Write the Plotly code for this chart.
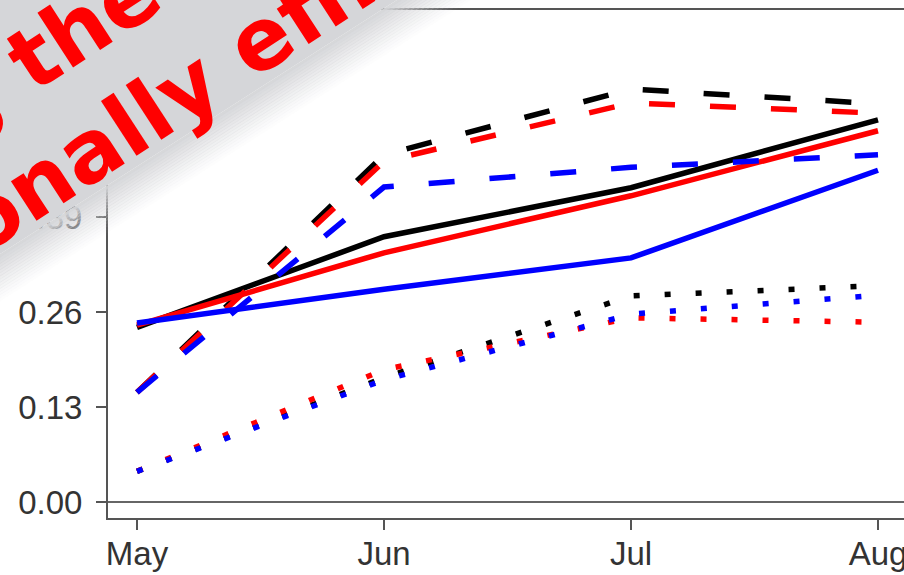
import plotly.graph_objects as go

# ---- data ----
months = ["May", "Jun", "Jul", "Aug"]
x_pos = [0, 1, 2, 3]

solid_black = [0.239, 0.363, 0.430, 0.523]
solid_red = [0.242, 0.341, 0.419, 0.508]
solid_blue = [0.245, 0.291, 0.334, 0.454]

dashed_black = [0.150, 0.475, 0.565, 0.545]
dashed_red = [0.150, 0.466, 0.546, 0.532]
dashed_blue = [0.150, 0.431, 0.458, 0.475]

dotted_black = [0.042, 0.170, 0.282, 0.296]
dotted_red = [0.042, 0.181, 0.252, 0.246]
dotted_blue = [0.042, 0.167, 0.257, 0.283]

y_ticks = [0.00, 0.13, 0.26, 0.39]
y_ticktext = ["0.00", "0.13", "0.26", "0.39"]

banner_lines = ["g the", "onally effic"]

# ---- figure geometry (screen pixels; body margin removed in the page) ----
W, H = 904, 575
PL, PT, PB = 108, 10, 518          # plot box edges
L, T, B, R = PL, PT, H - PB, 0
PW, PH = W - L - R, H - T - B
X0_PX, X_STEP = 137, 247           # May position, px per month


def px(xs):
    return (xs - L) / PW


def py(ys):
    return (H - B - ys) / PH


fig = go.Figure()

series = [
    (solid_black, "black", "solid"),
    (dashed_black, "black", "26px,35px"),
    (dotted_black, "black", "6px,25px"),
    (solid_red, "#ff0000", "solid"),
    (dashed_red, "#ff0000", "26px,35px"),
    (dotted_red, "#ff0000", "6px,25px"),
    (solid_blue, "#0000ff", "solid"),
    (dashed_blue, "#0000ff", "26px,35px"),
    (dotted_blue, "#0000ff", "6px,25px"),
]
for vals, col, dash in series:
    fig.add_trace(go.Scatter(
        x=x_pos, y=vals, mode="lines",
        line=dict(color=col, width=5.5, dash=dash),
        showlegend=False, hoverinfo="skip",
    ))

shapes = []
# horizontal reference line at 0
shapes.append(dict(type="line", xref="paper", yref="y", x0=0, x1=1, y0=0, y1=0,
                   line=dict(color="#666666", width=2), layer="below"))

# banner (grey band with soft lower edge), screen coordinates
grey = (213, 214, 217)
c0, m = 282.0, -0.64   # centre of edge: y = c0 + m*x


def band(d_top, d_bot, op):
    xa, xb = -60, 700
    pts = [(xa, c0 + m * xa + d_top), (xb, c0 + m * xb + d_top),
           (xb, c0 + m * xb + d_bot), (xa, c0 + m * xa + d_bot)]
    path = "M " + " L ".join(f"{px(a):.5f},{py(b):.5f}" for a, b in pts) + " Z"
    return dict(type="path", xref="paper", yref="paper", path=path,
                fillcolor=f"rgba({grey[0]},{grey[1]},{grey[2]},{op:.3f})",
                line=dict(width=0), layer="above")


shapes.append(band(-900, -28, 1.0))
N = 16
fade_top, fade_bot = -28, 22
step = (fade_bot - fade_top) / N
for k in range(N):
    t = (k + 0.5) / N
    op = (1 - t) ** 1.3
    shapes.append(band(fade_top + k * step, fade_top + (k + 1) * step + 0.6, op))

banner_font = dict(family="DejaVu Sans", size=86, color="#ff0000", weight="bold")
annotations = [
    dict(text=banner_lines[0], xref="paper", yref="paper", x=px(45), y=py(50),
         xanchor="center", yanchor="middle", showarrow=False, textangle=-33,
         font=banner_font),
    dict(text=banner_lines[1], xref="paper", yref="paper", x=px(186), y=py(88),
         xanchor="center", yanchor="middle", showarrow=False, textangle=-33,
         font=banner_font),
]

tick_font = dict(family="Liberation Sans, Arial, sans-serif", size=33, color="#333333")

fig.update_layout(
    width=W, height=H,
    margin=dict(l=L, r=R, t=T, b=B, autoexpand=False),
    paper_bgcolor="white", plot_bgcolor="white",
    shapes=shapes, annotations=annotations,
    xaxis=dict(range=[(PL - X0_PX) / X_STEP, 3 + (W - 878) / X_STEP],
               tickvals=x_pos, ticktext=months,
               showgrid=False, zeroline=False, showline=True, mirror=True,
               linecolor="#555555", linewidth=2, ticks="outside", ticklen=10,
               tickwidth=2, tickcolor="#555555", tickfont=tick_font,
               ticklabelstandoff=-5, ticklabeloverflow="allow"),
    yaxis=dict(range=[-16 / 730.8, 492 / 730.8], tickvals=y_ticks, ticktext=y_ticktext,
               showgrid=False, zeroline=False, showline=True, mirror=False,
               linecolor="#555555", linewidth=2, ticks="outside", ticklen=10,
               tickwidth=2, tickcolor="#555555", tickfont=tick_font,
               ticklabelstandoff=7),
)

fig.write_html(
    "out.html",
    config={"displayModeBar": False},
    post_script="document.body.style.margin='0px';document.body.style.overflow='hidden';",
)
